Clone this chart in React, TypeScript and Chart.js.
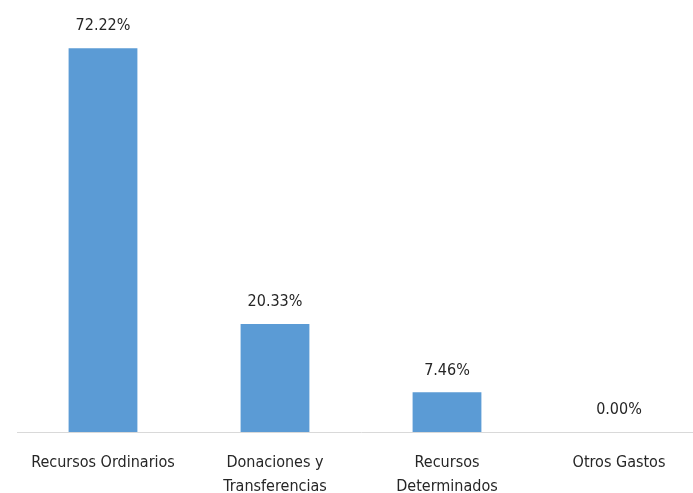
import React, { useEffect, useRef } from "react";
import { Chart, registerables } from "chart.js";

Chart.register(...registerables);

const categories: string[][] = [
  ["Recursos Ordinarios"],
  ["Donaciones y", "Transferencias"],
  ["Recursos", "Determinados"],
  ["Otros Gastos"],
];
const values: number[] = [72.22, 20.33, 7.46, 0.0];
const valueLabels: string[] = ["72.22%", "20.33%", "7.46%", "0.00%"];

const FONT = "'Liberation Sans Narrow', 'DejaVu Sans Condensed', 'Open Sans', sans-serif";

const dataLabelPlugin = {
  id: "dataLabels",
  afterDatasetsDraw(chart: any) {
    const ctx = chart.ctx;
    const meta = chart.getDatasetMeta(0);
    ctx.save();
    ctx.fillStyle = "#262626";
    ctx.font = `16px ${FONT}`;
    ctx.textAlign = "center";
    ctx.textBaseline = "middle";
    meta.data.forEach((bar: any, i: number) => {
      ctx.fillText(valueLabels[i], bar.x, bar.y - 22);
    });
    ctx.restore();
  },
};

export default function App() {
  const ref = useRef<HTMLCanvasElement | null>(null);
  useEffect(() => {
    document.body.style.margin = "0";
    const chart = new Chart(ref.current as HTMLCanvasElement, {
      type: "bar",
      data: {
        labels: categories,
        datasets: [
          {
            data: values,
            backgroundColor: "#5B9BD5",
            barPercentage: 0.4,
            categoryPercentage: 1,
          },
        ],
      },
      options: {
        responsive: false,
        animation: false,
        layout: { padding: { left: 17, right: 7, top: 7, bottom: 0 } },
        plugins: { legend: { display: false }, tooltip: { enabled: false } },
        scales: {
          y: { display: false, min: 0, max: 80 },
          x: {
            grid: { display: false },
            border: { display: true, color: "#D9D9D9", width: 1 },
            ticks: {
              color: "#262626",
              padding: 11,
              maxRotation: 0,
              autoSkip: false,
              font: { family: FONT, size: 16, lineHeight: 1.5 },
            },
          },
        },
      },
      plugins: [dataLabelPlugin],
    });
    return () => chart.destroy();
  }, []);
  return (
    <div style={{ width: 693, height: 493, overflow: "hidden", background: "#fff" }}>
      <canvas ref={ref} width={712} height={510} style={{ display: "block" }} />
    </div>
  );
}
